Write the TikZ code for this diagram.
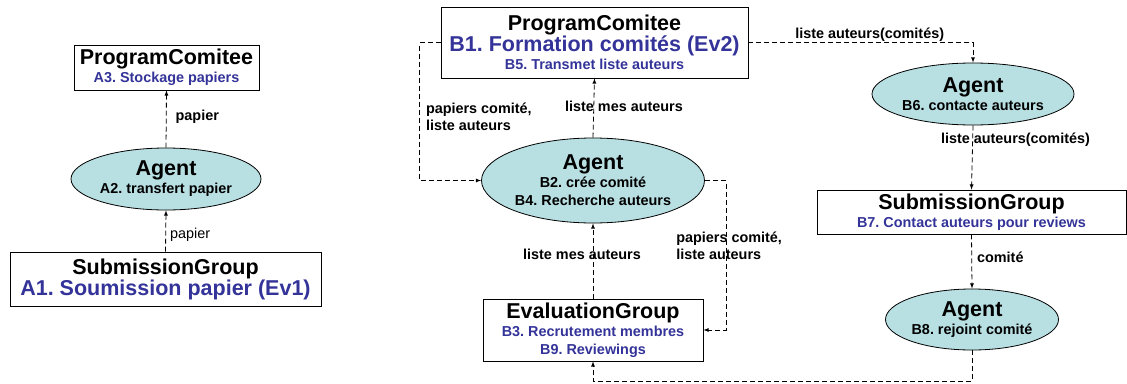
\documentclass[tikz,border=0pt]{standalone}
\usepackage{fontspec}
\setmainfont{Liberation Sans}
\usetikzlibrary{shapes,arrows,positioning}
\definecolor{roleblue}{RGB}{51,51,153}
\definecolor{agentfill}{RGB}{184,223,226}
\frenchspacing
\newcommand{\titre}[1]{{\fontsize{21.5}{24}\selectfont #1}}
\newcommand{\role}[1]{\textcolor{roleblue}{#1}}
\tikzset{
  box/.style={draw, line width=0.8pt, rectangle, align=center, inner sep=0pt, font=\bfseries\fontsize{14.4}{18}\selectfont},
  agent/.style={draw, line width=0.8pt, ellipse, fill=agentfill, align=center, inner sep=0pt, font=\bfseries\fontsize{14.4}{18}\selectfont},
  flow/.style={draw, line width=0.8pt, dash pattern=on 5pt off 3pt, -latex},
  lbl/.style={font=\bfseries\fontsize{14.4}{17}\selectfont, align=left, inner sep=1pt}
}
\begin{document}
\begin{tikzpicture}[x=1pt,y=-1pt]
\useasboundingbox (0,0) rectangle (1127,383);
% nodes (A)
\node[box, minimum width=185, minimum height=45] (pcA) at (166.5,67.5) {\titre{ProgramComitee}\\ \role{A3. Stockage papiers}};
\node[agent, minimum width=190, minimum height=62] (agA) at (166,179) {\titre{Agent}\\ A2. transfert papier};
\node[box, minimum width=311, minimum height=54] (sgA) at (165.5,279) {\titre{SubmissionGroup}\\ \titre{\role{A1. Soumission papier (Ev1)}}};
% nodes (B)
\node[box, minimum width=307, minimum height=71] (pcB) at (594.5,42.5) {\titre{ProgramComitee}\\ \titre{\role{B1. Formation comités (Ev2)}}\\ \role{B5. Transmet liste auteurs}};
\node[agent, minimum width=223, minimum height=85] (agB) at (593,180.5) {\titre{Agent}\\ B2. crée comité\\ B4. Recherche auteurs};
\node[box, minimum width=220, minimum height=62] (egB) at (593,330) {\titre{EvaluationGroup}\\ \role{B3. Recrutement membres}\\ \role{B9. Reviewings}};
\node[agent, minimum width=202, minimum height=62] (agC) at (973,94) {\titre{Agent}\\ B6. contacte auteurs};
\node[box, minimum width=309, minimum height=44] (sgB) at (971.5,212) {\titre{SubmissionGroup}\\ \role{B7. Contact auteurs pour reviews}};
\node[agent, minimum width=173, minimum height=61] (agD) at (972,319.5) {\titre{Agent}\\ B8. rejoint comité};
% edges (A)
\draw[flow] (agA.north) -- node[lbl, anchor=west, xshift=8pt, yshift=2pt] {papier} (pcA.south);
\draw[flow] (sgA.north) -- node[lbl, font=\fontsize{14.4}{17}\selectfont, pos=0.4, anchor=west, xshift=3pt] {papier} (agA.south);
% edges (B)
\draw[flow] (pcB.west) -- ++(-21,0) |- node[lbl, pos=0.27, anchor=west, xshift=5pt] {papiers comité,\\ liste auteurs} (agB.west);
\draw[flow] (agB.north) -- node[lbl, anchor=west, xshift=-30pt, yshift=2pt] {liste mes auteurs} (pcB.south);
\draw[flow] (agB.east) -- ++(21,0) |- node[lbl, pos=0.22, anchor=west, xshift=-51pt] {papiers comité,\\ liste auteurs} (egB.east);
\draw[flow] (egB.north) -- node[lbl, xshift=-11pt, yshift=7pt] {liste mes auteurs} (agB.south);
\draw[flow] (agD.south) -- ++(0,31) -| (egB.south);
\draw[flow] (pcB.east) -| node[lbl, pos=0.27, above] {liste auteurs(comités)} (agC.north);
\draw[flow] (agC.south) -- node[lbl, pos=0.23, anchor=west, xshift=-33pt] {liste auteurs(comités)} (sgB.north);
\draw[flow] (sgB.south) -- node[lbl, pos=0.42, anchor=west, xshift=4pt] {comité} (agD.north);
\end{tikzpicture}
\end{document}
